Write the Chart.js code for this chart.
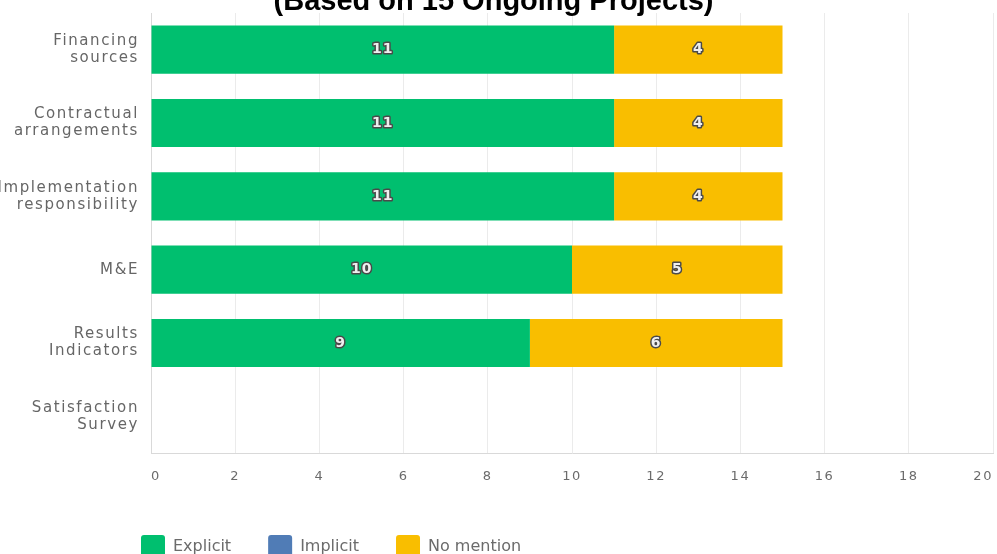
<!DOCTYPE html>
<html>
<head>
<meta charset="utf-8">
<script src="https://cdn.jsdelivr.net/npm/chart.js@4/dist/chart.umd.min.js"></script>
<style>
    html, body { margin: 0; padding: 0; background: #fff; overflow: hidden; }
    #wrap { position: relative; width: 997px; height: 554px; overflow: hidden; }
    #chart { display: block; }
</style>
</head>
<body>
<div id="wrap"><canvas id="chart" width="997" height="569"></canvas></div>
<script>
// Plan components, one row per bar
var categories = [
    ['Financing', 'sources'],
    ['Contractual', 'arrangements'],
    ['Implementation', 'responsibility'],
    'M&E',
    ['Results', 'Indicators'],
    ['Satisfaction', 'Survey']
];
var seriesNames = ['Explicit', 'Implicit', 'No mention'];
var explicitCounts = [11, 11, 11, 10, 9, 0];
var implicitCounts = [0, 0, 0, 0, 0, 0];
var noMentionCounts = [4, 4, 4, 5, 6, 0];
var seriesColors = ['#00BF6F', '#507CB6', '#F9BE00'];
var xMin = 0, xMax = 20, xStep = 2;
var titleText = '(Based on 15 Ongoing Projects)';

Chart.defaults.font.family = '"DejaVu Sans", sans-serif';
Chart.defaults.color = '#666';

// axis text is tracked out, legend and title are not
var letterSpacing = {
    id: 'letterSpacing',
    beforeLayout: function (chart) {
        chart.ctx.letterSpacing = '0px';
    },
    beforeDraw: function (chart) {
        chart.ctx.letterSpacing = '0px';
    }
};

// count inside each segment, then switch spacing on for the tick labels (ticks.z = 1)
var valueLabels = {
    id: 'valueLabels',
    afterDatasetsDraw: function (chart) {
        var ctx = chart.ctx;
        ctx.save();
        ctx.letterSpacing = '1px';
        ctx.font = 'bold 14px "DejaVu Sans"';
        ctx.textAlign = 'center';
        ctx.textBaseline = 'middle';
        ctx.lineJoin = 'round';
        ctx.lineWidth = 3;
        ctx.strokeStyle = '#4a4a4a';
        ctx.fillStyle = '#efefef';
        chart.data.datasets.forEach(function (ds, i) {
            var meta = chart.getDatasetMeta(i);
            if (meta.hidden) return;
            meta.data.forEach(function (bar, j) {
                var v = ds.data[j];
                if (!v) return;
                var p = bar.getCenterPoint();
                ctx.strokeText(String(v), p.x, p.y);
                ctx.fillText(String(v), p.x, p.y);
            });
        });
        ctx.restore();
        ctx.letterSpacing = '1.6px';
    }
};

// legend starts just left of the plot instead of the canvas edge
var legendShift = {
    id: 'legendShift',
    afterLayout: function (chart) {
        var lg = chart.legend;
        var w = lg.width;
        lg.left = chart.chartArea.left - 10 - lg.options.labels.padding;
        lg.right = lg.left + w;
    }
};

var topTitle = {
    id: 'topTitle',
    afterDraw: function (chart) {
        var ctx = chart.ctx;
        ctx.save();
        ctx.letterSpacing = '0px';
        ctx.font = 'bold 29px "Liberation Sans", Arial, sans-serif';
        ctx.fillStyle = '#000';
        ctx.textAlign = 'center';
        ctx.textBaseline = 'alphabetic';
        ctx.fillText(titleText, chart.width / 2 - 5, 10);
        ctx.restore();
    }
};

var ctx = document.getElementById('chart');
new Chart(ctx, {
    type: 'bar',
    data: {
        labels: categories,
        datasets: [
            { label: seriesNames[0], data: explicitCounts, backgroundColor: seriesColors[0] },
            { label: seriesNames[1], data: implicitCounts, backgroundColor: seriesColors[1] },
            { label: seriesNames[2], data: noMentionCounts, backgroundColor: seriesColors[2] }
        ]
    },
    plugins: [letterSpacing, valueLabels, legendShift, topTitle],
    options: {
        indexAxis: 'y',
        responsive: false,
        animation: false,
        layout: { padding: { top: 13, right: 4, left: 0, bottom: 0 } },
        datasets: {
            bar: { categoryPercentage: 0.82, barPercentage: 0.8, borderWidth: 0 }
        },
        scales: {
            x: {
                stacked: true,
                min: xMin,
                max: xMax,
                grid: { color: '#ebebeb', drawTicks: false },
                border: { display: true, color: '#d9d9d9' },
                ticks: {
                    stepSize: xStep,
                    align: 'inner',
                    padding: 16,
                    z: 1,
                    color: '#6b6b6b',
                    font: { size: 13 }
                },
                afterFit: function (scale) {
                    scale.height = 45;
                    scale.paddingLeft = 0;
                    scale.paddingRight = 0;
                }
            },
            y: {
                stacked: true,
                grid: { display: false, drawTicks: false },
                border: { display: true, color: '#d9d9d9' },
                ticks: {
                    padding: 12,
                    z: 1,
                    color: '#666',
                    font: { size: 15, lineHeight: 1.13 }
                },
                afterFit: function (scale) {
                    scale.width = 151;
                    // two-line labels should not push the plot down
                    scale.paddingTop = 0;
                    scale.paddingBottom = 0;
                }
            }
        },
        plugins: {
            title: { display: false },
            tooltip: { enabled: false },
            legend: {
                position: 'bottom',
                align: 'start',
                labels: {
                    boxWidth: 24,
                    boxHeight: 24,
                    padding: 37,
                    useBorderRadius: true,
                    borderRadius: 3,
                    color: '#6b6b6b',
                    font: { size: 16 }
                }
            }
        }
    }
});
</script>
</body>
</html>
